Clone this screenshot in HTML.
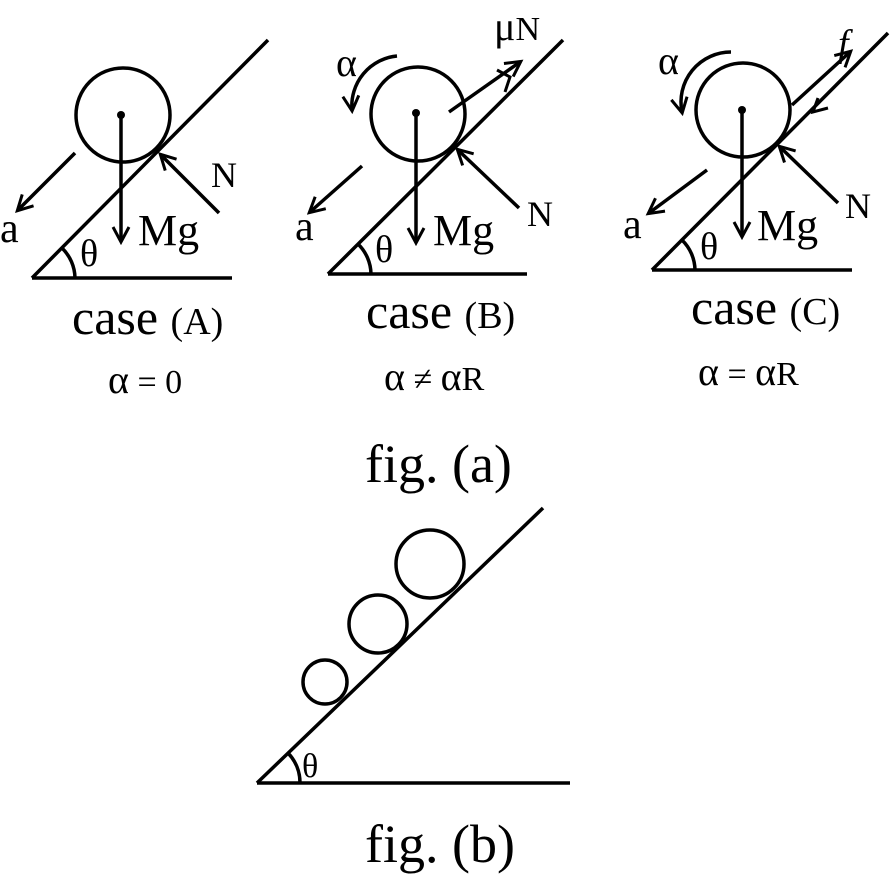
<!DOCTYPE html>
<html><head><style>html,body{margin:0;padding:0;background:#fff}svg{display:block}</style></head><body>
<svg width="891" height="877" viewBox="0 0 891 877" xmlns="http://www.w3.org/2000/svg" font-family="Liberation Serif, serif" fill="none" stroke="#000" stroke-width="3.5">
<defs>
<marker id="bh" markerWidth="20" markerHeight="20" refX="16" refY="10" orient="auto" markerUnits="userSpaceOnUse">
<path d="M2,2 L17,10 L2,18" fill="none" stroke="#000" stroke-width="3"/>
</marker>
</defs>
<!-- Case A -->
<line x1="32" y1="278" x2="268" y2="40"/>
<line x1="32" y1="278" x2="232" y2="278"/>
<path d="M75,278 A43,43 0 0 0 62,248"/>
<circle cx="123" cy="115" r="47"/>
<circle cx="121" cy="115" r="4" fill="#000" stroke="none"/>
<line x1="121" y1="115" x2="121" y2="241" marker-end="url(#bh)"/>
<line x1="219" y1="213" x2="161" y2="155" marker-end="url(#bh)"/>
<line x1="75" y1="153" x2="18" y2="210" marker-end="url(#bh)"/>
<!-- Case B -->
<line x1="328" y1="274" x2="563" y2="40"/>
<line x1="328" y1="274" x2="527" y2="274"/>
<path d="M371,274 A43,43 0 0 0 358,244"/>
<circle cx="418" cy="114" r="47"/>
<circle cx="416" cy="113" r="4" fill="#000" stroke="none"/>
<line x1="416" y1="113" x2="416" y2="242" marker-end="url(#bh)"/>
<line x1="519" y1="208" x2="458" y2="150" marker-end="url(#bh)"/>
<line x1="362" y1="166" x2="310" y2="212" marker-end="url(#bh)"/>
<line x1="449" y1="112" x2="520" y2="62" marker-end="url(#bh)"/>
<path d="M497,70 L510,77 L505,92" stroke-width="3"/>
<path d="M397,56 A50,50 0 0 0 352,110" marker-end="url(#bh)"/>
<!-- Case C -->
<line x1="652" y1="270" x2="888" y2="33"/>
<line x1="652" y1="270" x2="852" y2="270"/>
<path d="M695,270 A43,43 0 0 0 682,240"/>
<circle cx="743" cy="110" r="47"/>
<circle cx="742" cy="110" r="4" fill="#000" stroke="none"/>
<line x1="742" y1="110" x2="742" y2="236" marker-end="url(#bh)"/>
<line x1="838" y1="203" x2="780" y2="147" marker-end="url(#bh)"/>
<line x1="707" y1="170" x2="649" y2="213" marker-end="url(#bh)"/>
<line x1="792" y1="105" x2="850" y2="52" marker-end="url(#bh)"/>
<path d="M818,98 L813,112 L828,108" stroke-width="3"/>
<path d="M731,52 A50,50 0 0 0 682,112" marker-end="url(#bh)"/>
<!-- fig b -->
<line x1="257" y1="783" x2="543" y2="508"/>
<line x1="257" y1="783" x2="570" y2="783"/>
<path d="M300,783 A43,43 0 0 0 288,753"/>
<circle cx="430" cy="564" r="34"/>
<circle cx="378" cy="624" r="29"/>
<circle cx="325" cy="682" r="22"/>
<g fill="#000" stroke="none">
<text x="0" y="242" font-size="42">a</text>
<text x="80" y="266" font-size="38">θ</text>
<text x="138" y="245" font-size="44">Mg</text>
<text x="211" y="187" font-size="36">N</text>
<text x="72" y="334" font-size="50">case <tspan font-size="38">(A)</tspan></text>
<text x="108" y="393" font-size="34"><tspan font-size="40">α</tspan> = 0</text>

<text x="295" y="240" font-size="42">a</text>
<text x="375" y="262" font-size="38">θ</text>
<text x="433" y="245" font-size="44">Mg</text>
<text x="527" y="226" font-size="36">N</text>
<text x="494" y="40" font-size="34"><tspan font-size="40">μ</tspan>N</text>
<text x="336" y="76" font-size="40">α</text>
<text x="366" y="328" font-size="50">case <tspan font-size="38">(B)</tspan></text>
<text x="384" y="390" font-size="34"><tspan font-size="40">α</tspan> ≠ <tspan font-size="40">α</tspan>R</text>

<text x="623" y="238" font-size="42">a</text>
<text x="700" y="259" font-size="38">θ</text>
<text x="757" y="240" font-size="44">Mg</text>
<text x="845" y="218" font-size="36">N</text>
<text x="838" y="56" font-size="38" font-style="italic">f</text>
<text x="658" y="74" font-size="40">α</text>
<text x="691" y="324" font-size="50">case <tspan font-size="38">(C)</tspan></text>
<text x="698" y="385" font-size="34"><tspan font-size="40">α</tspan> = <tspan font-size="40">α</tspan>R</text>

<text x="365" y="482" font-size="54">fig. (a)</text>
<text x="302" y="777" font-size="34">θ</text>
<text x="365" y="862" font-size="54">fig. (b)</text>
</g>
</svg>
</body></html>
